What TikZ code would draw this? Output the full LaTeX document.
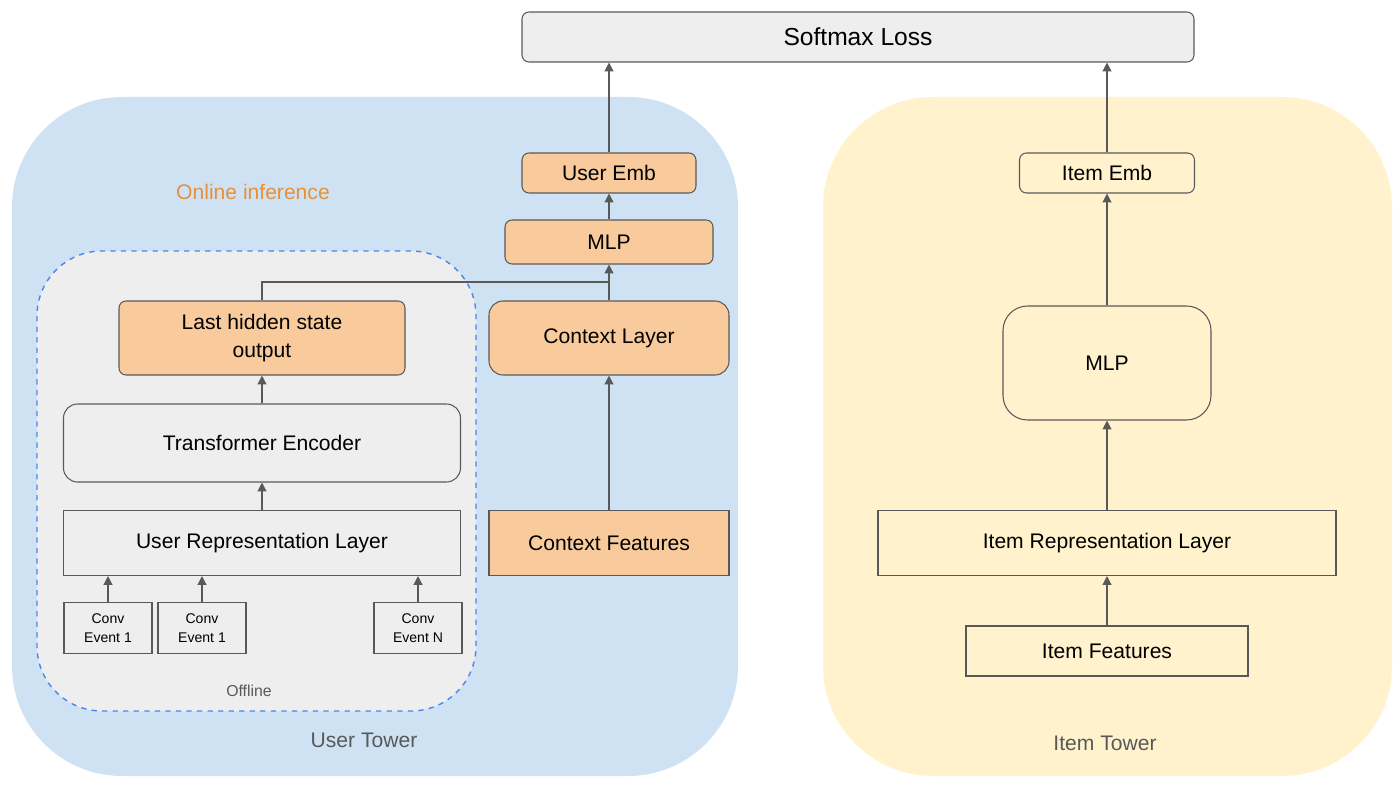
\documentclass[tikz,border=0pt]{standalone}
\usepackage{fontspec}
\setmainfont{Liberation Sans}
\usetikzlibrary{arrows.meta}
\definecolor{userbg}{HTML}{CFE2F3}
\definecolor{itembg}{HTML}{FFF2CC}
\definecolor{boxgray}{HTML}{EEEEEE}
\definecolor{boxorange}{HTML}{F9CB9C}
\definecolor{linegray}{HTML}{595959}
\definecolor{dashblue}{HTML}{4A86E8}
\definecolor{labelorange}{HTML}{E69138}
\begin{document}
\begin{tikzpicture}
[x=0.02cm, y=-0.02cm,
every node/.style={font=\fontsize{12}{14}\selectfont, align=center, inner sep=0pt},
box/.style={draw=linegray, line width=0.6pt},
grey/.style={box, fill=boxgray},
orange/.style={box, fill=boxorange},
yellow/.style={box, fill=itembg},
conn/.style={draw=linegray, line width=0.7pt, -{Triangle[length=5pt,width=5pt]}}
]
\useasboundingbox (0,0) rectangle (1400,787);
% backgrounds
\fill[userbg, rounded corners=2.2cm] (12,97) rectangle (738,776);
\fill[itembg, rounded corners=2.2cm] (823,97) rectangle (1392,776);
\draw[dashblue, dashed, fill=boxgray, line width=0.8pt, rounded corners=1.3cm] (37,251) rectangle (476,711);
% labels
\node[text=labelorange] (online) at (253,192) {Online inference};
\node[text=linegray, font=\fontsize{9}{11}\selectfont] (offline) at (249,691) {Offline};
\node[text=linegray] (usertower) at (364,740) {User Tower};
\node[text=linegray] (itemtower) at (1105,743) {Item Tower};
% top
\node[grey, rounded corners=4pt, minimum width=672*0.02cm, minimum height=50*0.02cm,
      font=\fontsize{14}{16}\selectfont] (loss) at (858,37) {Softmax Loss};
% user tower
\node[orange, rounded corners=4pt, minimum width=286*0.02cm, minimum height=74*0.02cm] (lasthidden) at (262,338) {Last hidden state\\[2pt]output};
\node[grey, rounded corners=8pt, minimum width=397*0.02cm, minimum height=78*0.02cm] (encoder) at (262,443) {Transformer Encoder};
\node[grey, minimum width=397*0.02cm, minimum height=65*0.02cm] (userrep) at (262,543) {User Representation Layer};
\foreach \name/\x/\txt in {conva/108/Event 1, convb/202/Event 1, convn/418/Event N}
  \node[grey, minimum width=88*0.02cm, minimum height=51*0.02cm,
        font=\fontsize{8}{10}\selectfont] (\name) at (\x,628) {Conv\\[1pt]\txt};
\node[orange, minimum width=240*0.02cm, minimum height=65*0.02cm] (ctxfeat) at (609,543) {Context Features};
\node[orange, rounded corners=8pt, minimum width=240*0.02cm, minimum height=74*0.02cm] (ctxlayer) at (609,338) {Context Layer};
\node[orange, rounded corners=4pt, minimum width=208*0.02cm, minimum height=44*0.02cm] (usermlp) at (609,242) {MLP};
\node[orange, rounded corners=4pt, minimum width=174*0.02cm, minimum height=40*0.02cm] (useremb) at (609,173) {User Emb};
% item tower
\node[yellow, rounded corners=4pt, minimum width=175*0.02cm, minimum height=40*0.02cm] (itememb) at (1107,173) {Item Emb};
\node[yellow, rounded corners=14pt, minimum width=208*0.02cm, minimum height=114*0.02cm] (itemmlp) at (1107,363) {MLP};
\node[yellow, minimum width=458*0.02cm, minimum height=65*0.02cm] (itemrep) at (1107,543) {Item Representation Layer};
\node[yellow, minimum width=282*0.02cm, minimum height=50*0.02cm] (itemfeat) at (1107,651) {Item Features};
\coordinate (join) at (609,282);
% connectors
\foreach \a in {conva, convb, convn}
  \draw[conn] (\a) -- (\a |- userrep.south);
\draw[conn] (userrep) -- (encoder);
\draw[conn] (encoder) -- (lasthidden);
\draw[draw=linegray, line width=0.7pt] (lasthidden.north) |- (join);
\draw[conn] (ctxfeat) -- (ctxlayer);
\draw[conn] (ctxlayer) -- (usermlp);
\draw[conn] (usermlp) -- (useremb);
\draw[conn] (useremb) -- (useremb |- loss.south);
\draw[conn] (itemfeat) -- (itemrep);
\draw[conn] (itemrep) -- (itemmlp);
\draw[conn] (itemmlp) -- (itememb);
\draw[conn] (itememb) -- (itememb |- loss.south);
\end{tikzpicture}
\end{document}
